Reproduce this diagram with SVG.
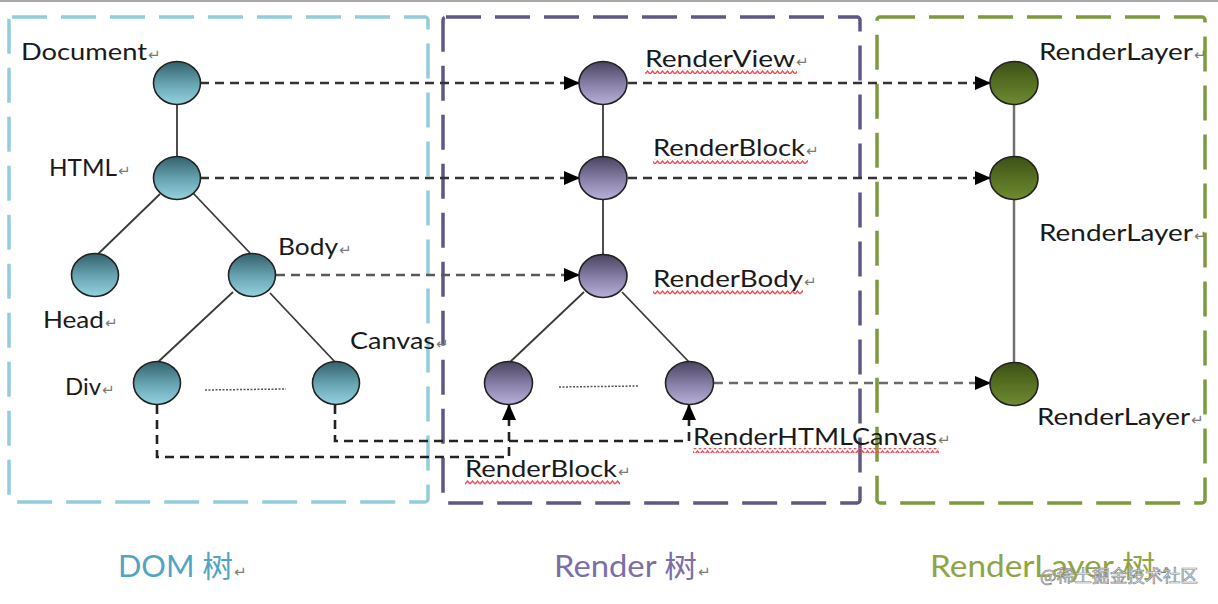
<svg xmlns="http://www.w3.org/2000/svg" width="1218" height="604" viewBox="0 0 1218 604">
<style>
.lbl{font-family:Lato,"Liberation Sans",sans-serif;font-size:24px;fill:#1a1a1a}
.pm{font-family:"DejaVu Sans",sans-serif;font-size:15px;fill:#7a7a7a}
.ttl{font-family:Lato,"Liberation Sans","Noto Sans CJK SC",sans-serif;font-size:30px}
.box{fill:none;stroke-width:3.5;stroke-dasharray:35 14}
.tree{stroke:#3a3a3a;stroke-width:1.8;fill:none}
.dash{fill:none;stroke-width:2.6;stroke-dasharray:9 6;marker-end:url(#ah)}
.dot{stroke:#555;stroke-width:1.5;stroke-dasharray:2 1.5}
.n{stroke:#222;stroke-width:1.6}
.sq{fill:url(#squig)}
</style>
<defs>
<linearGradient id="gT" x1="0" y1="0" x2="0" y2="1"><stop offset="0" stop-color="#33606b"/><stop offset="0.55" stop-color="#6aa7b5"/><stop offset="1" stop-color="#94d2de"/></linearGradient>
<linearGradient id="gP" x1="0" y1="0" x2="0" y2="1"><stop offset="0" stop-color="#4a435f"/><stop offset="0.55" stop-color="#8a82aa"/><stop offset="1" stop-color="#b8b0d8"/></linearGradient>
<linearGradient id="gG" x1="0" y1="0" x2="0" y2="1"><stop offset="0" stop-color="#3c5016"/><stop offset="0.5" stop-color="#566f22"/><stop offset="1" stop-color="#6e8b31"/></linearGradient>
<marker id="ah" markerWidth="16" markerHeight="14" refX="15" refY="7" orient="auto" markerUnits="userSpaceOnUse"><path d="M0,0 L16,7 L0,14 z" fill="#000"/></marker>
<pattern id="squig" width="5" height="5" patternUnits="userSpaceOnUse"><path d="M0,4 L2.5,1 L5,4" fill="none" stroke="#f04a55" stroke-width="1.4"/></pattern>
</defs>
<rect width="1218" height="604" fill="#fff"/>
<line x1="0" y1="1" x2="1218" y2="1" stroke="#8a8a8a" stroke-width="1.5"/>

<g id="containers">
<rect x="9" y="17" width="419" height="485" rx="3" class="box" stroke="#93cddb"/>
<rect x="443" y="17" width="417" height="486" rx="3" class="box" stroke="#5e5886" stroke-width="4"/>
<rect x="877" y="17" width="328" height="486" rx="3" class="box" stroke="#7d9b3c"/>
</g>

<g id="connectors">
<line class="tree" x1="177" y1="105" x2="177" y2="157"/>
<line class="tree" x1="160" y1="194" x2="97" y2="255"/>
<line class="tree" x1="193" y1="193" x2="250" y2="253"/>
<line class="tree" x1="233" y1="292" x2="158" y2="362"/>
<line class="tree" x1="270" y1="293" x2="335" y2="362"/>
<line class="tree" x1="603" y1="105" x2="603" y2="157"/>
<line class="tree" x1="603" y1="200" x2="603" y2="254"/>
<line class="tree" x1="584" y1="292" x2="510" y2="362"/>
<line class="tree" x1="622" y1="292" x2="689" y2="362"/>
<line x1="1014" y1="105" x2="1014" y2="157" stroke="#707070" stroke-width="2.5"/>
<line x1="1014" y1="200" x2="1014" y2="362" stroke="#707070" stroke-width="2.5"/>
<line class="dot" x1="205" y1="390" x2="286" y2="389"/>
<line class="dot" x1="559" y1="387" x2="638" y2="386"/>
<path class="dash" stroke="#333" d="M200,83 H579"/>
<path class="dash" stroke="#333" d="M628,83 H990"/>
<path class="dash" stroke="#333" d="M200,178 H579"/>
<path class="dash" stroke="#333" d="M628,178 H990"/>
<path class="dash" stroke="#5a5a5a" d="M276,275 H579"/>
<path class="dash" stroke="#6a6a6a" d="M714,383 H990"/>
<path class="dash" stroke="#222" d="M157,405 V457 H509 V405"/>
<path class="dash" stroke="#222" d="M335,405 V441 H689 V405"/>
</g>

<g id="dom-document"><ellipse class="n" cx="177" cy="83" rx="23.5" ry="21.5" fill="url(#gT)"/><text class="lbl" x="21" y="60" textLength="126" lengthAdjust="spacingAndGlyphs">Document</text><text class="pm" x="148" y="60">↵</text></g>
<g id="dom-html"><ellipse class="n" cx="177" cy="178" rx="23.5" ry="21.5" fill="url(#gT)"/><text class="lbl" x="49" y="176" textLength="68" lengthAdjust="spacingAndGlyphs">HTML</text><text class="pm" x="118" y="176">↵</text></g>
<g id="dom-head"><ellipse class="n" cx="95" cy="275" rx="23.5" ry="21.5" fill="url(#gT)"/><text class="lbl" x="43" y="328" textLength="61" lengthAdjust="spacingAndGlyphs">Head</text><text class="pm" x="105" y="328">↵</text></g>
<g id="dom-body"><ellipse class="n" cx="252" cy="275" rx="23.5" ry="21.5" fill="url(#gT)"/><text class="lbl" x="278" y="255" textLength="60" lengthAdjust="spacingAndGlyphs">Body</text><text class="pm" x="339" y="255">↵</text></g>
<g id="dom-div"><ellipse class="n" cx="157" cy="383" rx="23.5" ry="21.5" fill="url(#gT)"/><text class="lbl" x="65" y="395" textLength="36" lengthAdjust="spacingAndGlyphs">Div</text><text class="pm" x="102" y="395">↵</text></g>
<g id="dom-canvas"><ellipse class="n" cx="336" cy="383" rx="23.5" ry="21.5" fill="url(#gT)"/><text class="lbl" x="350" y="349" textLength="85" lengthAdjust="spacingAndGlyphs">Canvas</text><text class="pm" x="436" y="349">↵</text></g>

<g id="render-view"><ellipse class="n" cx="603" cy="83" rx="24" ry="21.5" fill="url(#gP)"/><rect class="sq" x="645" y="69" width="152" height="5"/><text class="lbl" x="645" y="67" textLength="150" lengthAdjust="spacingAndGlyphs">RenderView</text><text class="pm" x="796" y="67">↵</text></g>
<g id="render-block"><ellipse class="n" cx="603" cy="178" rx="24" ry="21.5" fill="url(#gP)"/><rect class="sq" x="653" y="159" width="155" height="5"/><text class="lbl" x="653" y="156" textLength="152" lengthAdjust="spacingAndGlyphs">RenderBlock</text><text class="pm" x="806" y="156">↵</text></g>
<g id="render-body"><ellipse class="n" cx="603" cy="276" rx="24" ry="21.5" fill="url(#gP)"/><rect class="sq" x="653" y="290" width="150" height="5"/><text class="lbl" x="653" y="287" textLength="150" lengthAdjust="spacingAndGlyphs">RenderBody</text><text class="pm" x="804" y="287">↵</text></g>
<g id="render-block-2"><ellipse class="n" cx="508.5" cy="383" rx="24" ry="21.5" fill="url(#gP)"/><rect class="sq" x="465" y="480" width="155" height="5"/><text class="lbl" x="465" y="477" textLength="152" lengthAdjust="spacingAndGlyphs">RenderBlock</text><text class="pm" x="618" y="477">↵</text></g>
<g id="render-htmlcanvas"><ellipse class="n" cx="689.5" cy="383" rx="24" ry="21.5" fill="url(#gP)"/><rect class="sq" x="693" y="448" width="246" height="5"/><text class="lbl" x="693" y="445" textLength="244" lengthAdjust="spacingAndGlyphs">RenderHTMLCanvas</text><text class="pm" x="938" y="445">↵</text></g>

<g id="layer-1"><ellipse class="n" cx="1014" cy="83" rx="24" ry="21.5" fill="url(#gG)"/><text class="lbl" x="1039" y="60" textLength="154" lengthAdjust="spacingAndGlyphs">RenderLayer</text><text class="pm" x="1194" y="60">↵</text></g>
<g id="layer-2"><ellipse class="n" cx="1014" cy="178" rx="24" ry="21.5" fill="url(#gG)"/><text class="lbl" x="1039" y="241" textLength="154" lengthAdjust="spacingAndGlyphs">RenderLayer</text><text class="pm" x="1194" y="241">↵</text></g>
<g id="layer-3"><ellipse class="n" cx="1014" cy="384" rx="24" ry="21.5" fill="url(#gG)"/><text class="lbl" x="1037" y="425" textLength="153" lengthAdjust="spacingAndGlyphs">RenderLayer</text><text class="pm" x="1191" y="425">↵</text></g>

<g id="titles">
<text class="ttl" x="118" y="577" fill="#4fa5c2" textLength="115" lengthAdjust="spacingAndGlyphs">DOM 树</text><text class="pm" x="234" y="577">↵</text>
<text class="ttl" x="554" y="577" fill="#7a6fa8" textLength="143" lengthAdjust="spacingAndGlyphs">Render 树</text><text class="pm" x="698" y="577">↵</text>
<text class="ttl" x="930" y="577" fill="#8fa444" textLength="225" lengthAdjust="spacingAndGlyphs">RenderLayer 树</text><text class="pm" x="1156" y="577">↵</text>
<text x="1040" y="582" font-family="'Noto Sans CJK SC',sans-serif" font-size="17" fill="#f4f4f4" stroke="#8a8a8a" stroke-width="0.7" textLength="158" lengthAdjust="spacingAndGlyphs">@稀土掘金技术社区</text>
</g>
</svg>
